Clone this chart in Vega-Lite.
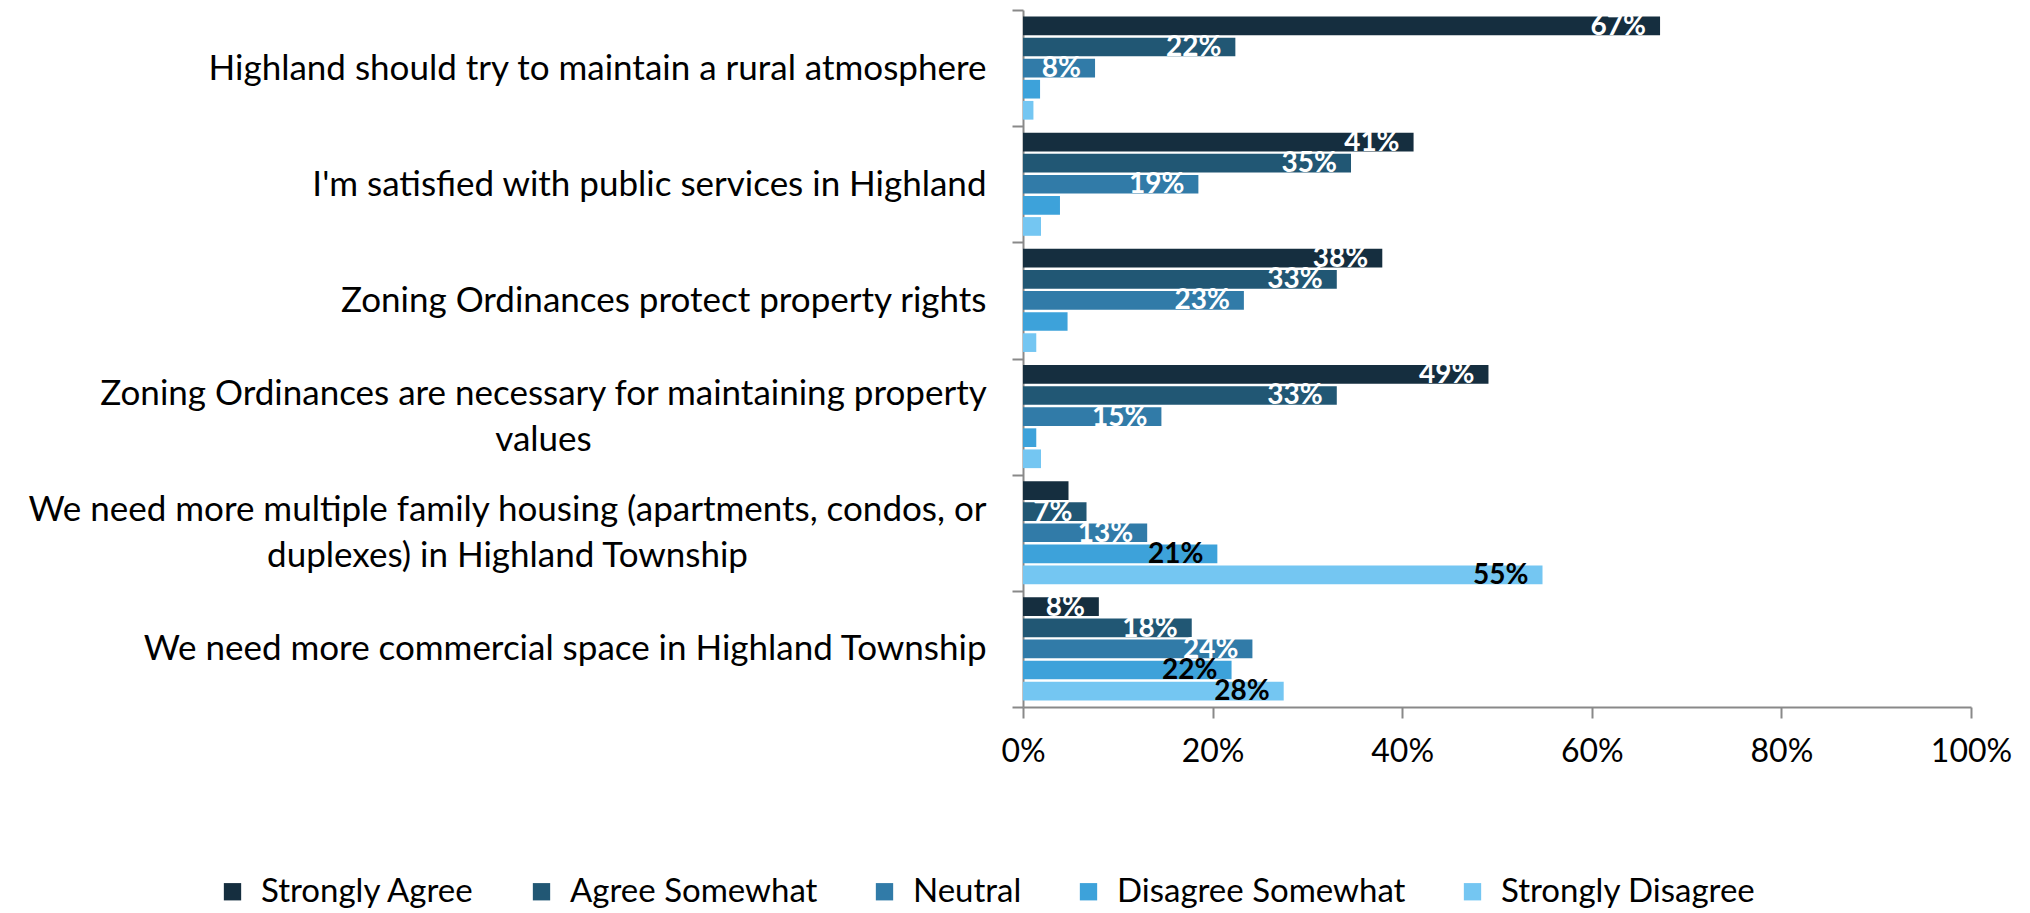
{
  "$schema": "https://vega.github.io/schema/vega-lite/v6.json",
  "width": 948,
  "height": 697,
  "autosize": {"type": "none"},
  "padding": {"left": 1023, "top": 10, "right": 59, "bottom": 206},
  "background": "white",
  "config": {"view": {"stroke": null}, "font": "Lato", "axis": {"grid": false}},
  "data": {
    "values": [
      {"statement": "Highland should try to maintain a rural atmosphere", "response": "Strongly Agree", "pct": 67.2, "label": "67%"},
      {"statement": "Highland should try to maintain a rural atmosphere", "response": "Agree Somewhat", "pct": 22.4, "label": "22%"},
      {"statement": "Highland should try to maintain a rural atmosphere", "response": "Neutral", "pct": 7.6, "label": "8%"},
      {"statement": "Highland should try to maintain a rural atmosphere", "response": "Disagree Somewhat", "pct": 1.8, "label": ""},
      {"statement": "Highland should try to maintain a rural atmosphere", "response": "Strongly Disagree", "pct": 1.1, "label": ""},
      {"statement": "I'm satisfied with public services in Highland", "response": "Strongly Agree", "pct": 41.2, "label": "41%"},
      {"statement": "I'm satisfied with public services in Highland", "response": "Agree Somewhat", "pct": 34.6, "label": "35%"},
      {"statement": "I'm satisfied with public services in Highland", "response": "Neutral", "pct": 18.5, "label": "19%"},
      {"statement": "I'm satisfied with public services in Highland", "response": "Disagree Somewhat", "pct": 3.9, "label": ""},
      {"statement": "I'm satisfied with public services in Highland", "response": "Strongly Disagree", "pct": 1.9, "label": ""},
      {"statement": "Zoning Ordinances protect property rights", "response": "Strongly Agree", "pct": 37.9, "label": "38%"},
      {"statement": "Zoning Ordinances protect property rights", "response": "Agree Somewhat", "pct": 33.1, "label": "33%"},
      {"statement": "Zoning Ordinances protect property rights", "response": "Neutral", "pct": 23.3, "label": "23%"},
      {"statement": "Zoning Ordinances protect property rights", "response": "Disagree Somewhat", "pct": 4.7, "label": ""},
      {"statement": "Zoning Ordinances protect property rights", "response": "Strongly Disagree", "pct": 1.4, "label": ""},
      {"statement": "Zoning Ordinances are necessary for maintaining property\nvalues", "response": "Strongly Agree", "pct": 49.1, "label": "49%"},
      {"statement": "Zoning Ordinances are necessary for maintaining property\nvalues", "response": "Agree Somewhat", "pct": 33.1, "label": "33%"},
      {"statement": "Zoning Ordinances are necessary for maintaining property\nvalues", "response": "Neutral", "pct": 14.6, "label": "15%"},
      {"statement": "Zoning Ordinances are necessary for maintaining property\nvalues", "response": "Disagree Somewhat", "pct": 1.4, "label": ""},
      {"statement": "Zoning Ordinances are necessary for maintaining property\nvalues", "response": "Strongly Disagree", "pct": 1.9, "label": ""},
      {"statement": "We need more multiple family housing  (apartments, condos, or\nduplexes) in Highland Township", "response": "Strongly Agree", "pct": 4.8, "label": ""},
      {"statement": "We need more multiple family housing  (apartments, condos, or\nduplexes) in Highland Township", "response": "Agree Somewhat", "pct": 6.7, "label": "7%"},
      {"statement": "We need more multiple family housing  (apartments, condos, or\nduplexes) in Highland Township", "response": "Neutral", "pct": 13.1, "label": "13%"},
      {"statement": "We need more multiple family housing  (apartments, condos, or\nduplexes) in Highland Township", "response": "Disagree Somewhat", "pct": 20.5, "label": "21%"},
      {"statement": "We need more multiple family housing  (apartments, condos, or\nduplexes) in Highland Township", "response": "Strongly Disagree", "pct": 54.8, "label": "55%"},
      {"statement": "We need more commercial space in Highland Township", "response": "Strongly Agree", "pct": 8.0, "label": "8%"},
      {"statement": "We need more commercial space in Highland Township", "response": "Agree Somewhat", "pct": 17.8, "label": "18%"},
      {"statement": "We need more commercial space in Highland Township", "response": "Neutral", "pct": 24.2, "label": "24%"},
      {"statement": "We need more commercial space in Highland Township", "response": "Disagree Somewhat", "pct": 22.0, "label": "22%"},
      {"statement": "We need more commercial space in Highland Township", "response": "Strongly Disagree", "pct": 27.5, "label": "28%"}
    ]
  },
  "encoding": {
    "yOffset": {
      "field": "response",
      "type": "nominal",
      "sort": ["Strongly Agree", "Agree Somewhat", "Neutral", "Disagree Somewhat", "Strongly Disagree"],
      "scale": {"paddingInner": 0.114, "paddingOuter": 0.31}
    },
    "x": {
      "field": "pct",
      "type": "quantitative",
      "scale": {"domain": [0, 100]},
      "axis": {
        "title": null,
        "values": [0, 20, 40, 60, 80, 100],
        "labelExpr": "datum.value + '%'",
        "domainColor": "#898989",
        "domainWidth": 2,
        "tickColor": "#898989",
        "tickWidth": 2,
        "tickSize": 11,
        "labelFont": "Lato",
        "labelFontSize": 32,
        "labelColor": "#000000",
        "labelPadding": 18,
        "labelFlush": false
      }
    }
  },
  "resolve": {"axis": {"y": "independent"}},
  "layer": [
    {
      "mark": {"type": "bar"},
      "encoding": {
        "y": {
          "field": "statement",
          "type": "nominal",
          "sort": null,
          "scale": {
            "domain": [
              "Highland should try to maintain a rural atmosphere",
              "I'm satisfied with public services in Highland",
              "Zoning Ordinances protect property rights",
              "Zoning Ordinances are necessary for maintaining property\nvalues",
              "We need more multiple family housing  (apartments, condos, or\nduplexes) in Highland Township",
              "We need more commercial space in Highland Township"
            ],
            "paddingInner": 0,
            "paddingOuter": 0
          },
          "axis": {
            "title": null,
            "orient": "left",
            "offset": 0,
            "domainColor": "#898989",
            "domainWidth": 2,
            "tickColor": "#898989",
            "tickWidth": 2,
            "tickSize": 11,
            "tickBand": "extent",
            "labelFont": "Lato",
            "labelFontSize": 35,
            "labelColor": "#000000",
            "labelLimit": 1200,
            "labelPadding": 26,
            "labelExpr": "isValid(datum.value) && indexof(datum.value, '\\n') < 0 ? datum.value : ''"
          }
        },
        "color": {
          "field": "response",
          "type": "nominal",
          "sort": ["Strongly Agree", "Agree Somewhat", "Neutral", "Disagree Somewhat", "Strongly Disagree"],
          "scale": {
            "domain": ["Strongly Agree", "Agree Somewhat", "Neutral", "Disagree Somewhat", "Strongly Disagree"],
            "range": ["#152E3F", "#215774", "#317BA8", "#3DA2DA", "#74C6F2"]
          },
          "legend": {
            "orient": "none",
            "legendX": -807,
            "legendY": 865,
            "direction": "horizontal",
            "title": null,
            "symbolType": "square",
            "symbolSize": 300,
            "symbolStrokeWidth": 0,
            "labelFont": "Lato",
            "labelFontSize": 33,
            "labelColor": "#000000",
            "labelOffset": 12,
            "columnPadding": 50,
            "labelLimit": 600
          }
        }
      }
    },
    {
      "transform": [{"filter": "datum.label != '' && (datum.response == 'Strongly Agree' || datum.response == 'Agree Somewhat' || datum.response == 'Neutral')"}],
      "mark": {"type": "text", "align": "right", "baseline": "middle", "dx": -14, "dy": 1, "font": "Lato", "fontSize": 28, "fontWeight": "bold", "color": "#ffffff"},
      "encoding": {
        "y": {
          "field": "statement",
          "type": "nominal",
          "sort": null,
          "axis": {
            "title": null,
            "orient": "left",
            "offset": 0,
            "domain": false,
            "tickOpacity": 0,
            "tickSize": 11,
            "labelFont": "Lato",
            "labelFontSize": 35,
            "labelColor": "#000000",
            "labelLimit": 1200,
            "labelLineHeight": 46,
            "labelAlign": "center",
            "labelPadding": 469,
            "labelOffset": -23,
            "labelExpr": "isValid(datum.value) && indexof(datum.value, 'Zoning Ordinances are') == 0 ? split(datum.value, '\\n') : ''"
          }
        },
        "text": {"field": "label", "type": "nominal"}
      }
    },
    {
      "transform": [{"filter": "datum.label != '' && (datum.response == 'Disagree Somewhat' || datum.response == 'Strongly Disagree')"}],
      "mark": {"type": "text", "align": "right", "baseline": "middle", "dx": -14, "dy": 1, "font": "Lato", "fontSize": 28, "fontWeight": "bold", "color": "#000000"},
      "encoding": {
        "y": {
          "field": "statement",
          "type": "nominal",
          "sort": null,
          "axis": {
            "title": null,
            "orient": "left",
            "offset": 0,
            "domain": false,
            "tickOpacity": 0,
            "tickSize": 11,
            "labelFont": "Lato",
            "labelFontSize": 35,
            "labelColor": "#000000",
            "labelLimit": 1200,
            "labelLineHeight": 46,
            "labelAlign": "center",
            "labelPadding": 505,
            "labelOffset": -23,
            "labelExpr": "isValid(datum.value) && indexof(datum.value, 'We need more multiple') == 0 ? split(datum.value, '\\n') : ''"
          }
        },
        "text": {"field": "label", "type": "nominal"}
      }
    }
  ]
}
